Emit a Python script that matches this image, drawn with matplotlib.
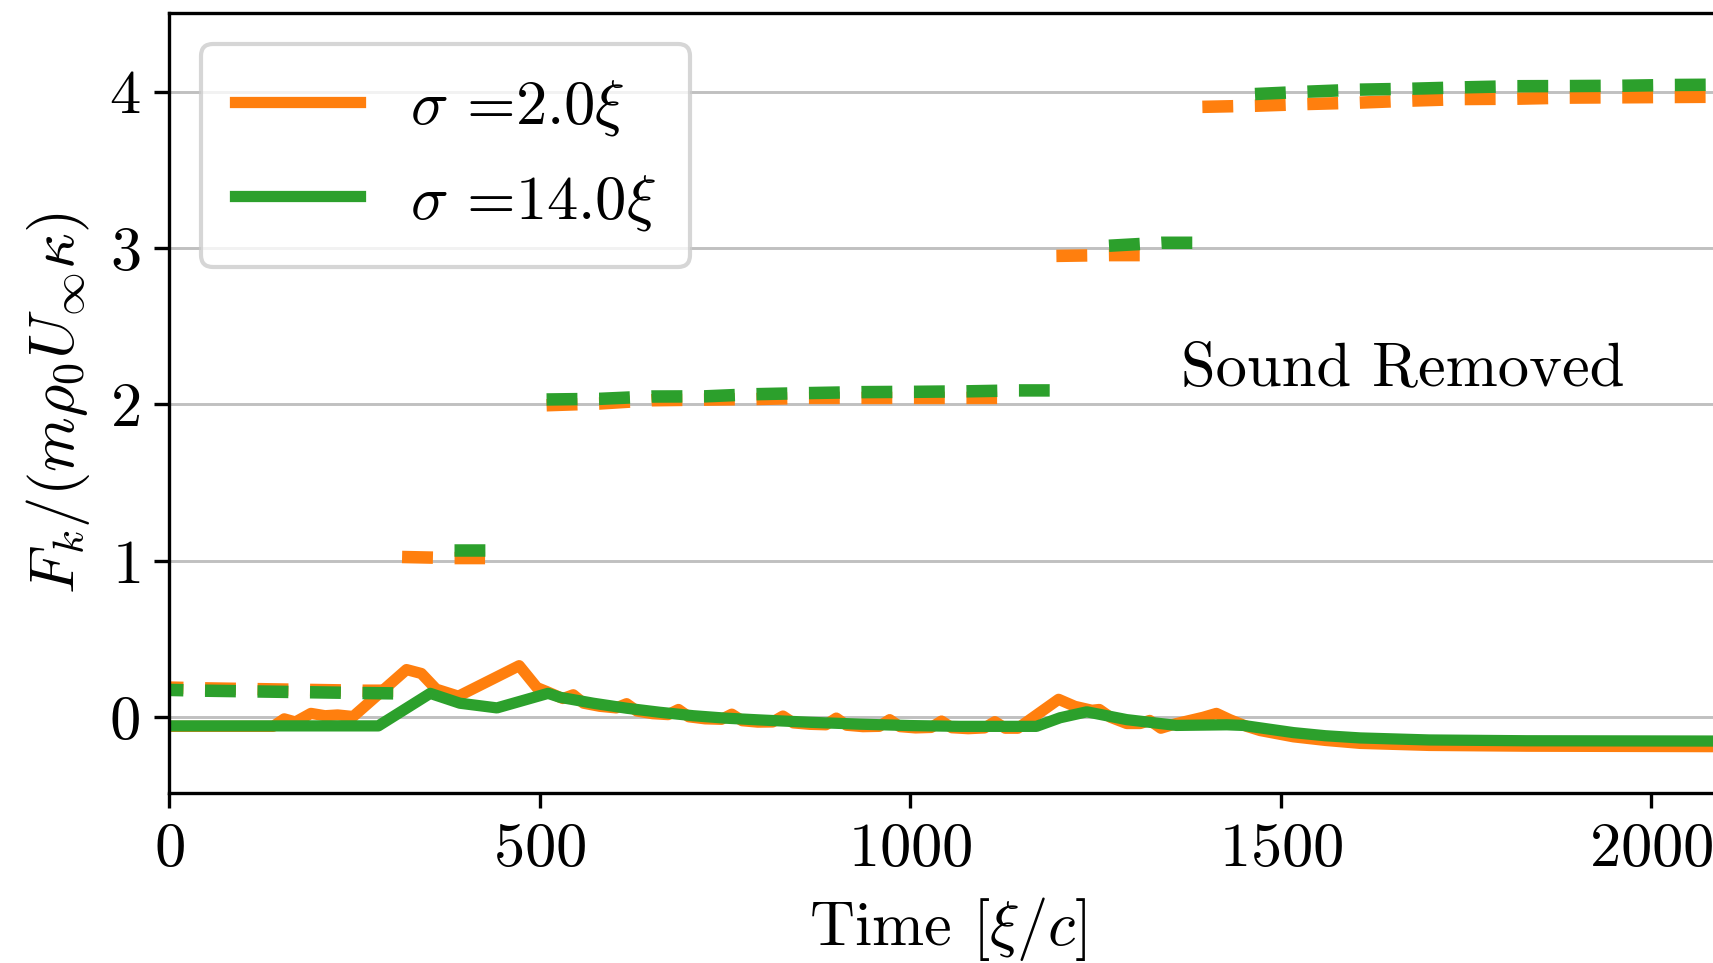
import matplotlib
matplotlib.use("Agg")
import matplotlib.pyplot as plt

plt.rcParams['font.family'] = 'serif'
plt.rcParams['font.serif'] = ['cmr10']
plt.rcParams['mathtext.fontset'] = 'cm'
plt.rcParams['axes.formatter.use_mathtext'] = True
plt.rcParams['font.size'] = 15

labels = [r'$\sigma$ =2.0$\xi$', r'$\sigma$ =14.0$\xi$']
colors = ['#ff7f0e', '#2ca02c']
x_ticks = [0, 500, 1000, 1500, 2000]
y_ticks = [0, 1, 2, 3, 4]

# solid curves (force), sigma = 2.0 xi
t_force_s2 = [0, 140, 155, 170, 191, 210, 227, 248, 320, 340, 360, 390, 472, 496, 509,
              531, 545, 559, 581, 603, 617, 631, 652, 673, 687, 701, 723, 745, 759, 773,
              794, 814, 828, 842, 864, 886, 900, 914, 936, 958, 972, 986, 1007, 1028, 1042,
              1056, 1078, 1100, 1114, 1128, 1145, 1200, 1222, 1245, 1255, 1270, 1292, 1310,
              1323, 1338, 1359, 1395, 1413, 1431, 1455, 1472, 1517, 1560, 1607, 1700, 1832, 2100]
F_force_s2 = [-0.058, -0.058, -0.01, -0.03, 0.025, 0.01, 0.015, 0.005, 0.305, 0.28, 0.18, 0.135, 0.33, 0.19, 0.165,
              0.12, 0.144, 0.09, 0.07, 0.06, 0.087, 0.04, 0.023, 0.017, 0.05, 0.003, -0.01, -0.013, 0.02, -0.022,
              -0.031, -0.03, 0.008, -0.036, -0.045, -0.048, -0.005, -0.051, -0.06, -0.058, -0.015, -0.06, -0.068, -0.065, -0.024,
              -0.067, -0.073, -0.068, -0.028, -0.07, -0.07, 0.115, 0.07, 0.045, 0.05, 0.0, -0.04, -0.04,
              -0.02, -0.07, -0.04, 0.0, 0.025, -0.015, -0.06, -0.085, -0.125, -0.148, -0.167, -0.18, -0.185, -0.188]

# solid curves (force), sigma = 14.0 xi
t_force_s14 = [0, 282, 352, 392, 442, 511, 527, 572, 617, 662, 707, 752, 797, 865, 932, 1000,
               1067, 1170, 1202, 1238, 1292, 1359, 1427, 1449, 1517, 1560, 1607, 1700, 1832, 2100]
F_force_s14 = [-0.055, -0.055, 0.153, 0.09, 0.06, 0.153, 0.128, 0.09, 0.058, 0.032, 0.01, -0.006, -0.017, -0.032, -0.044, -0.053,
               -0.058, -0.058, -0.003, 0.035, -0.015, -0.052, -0.048, -0.052, -0.098, -0.118, -0.132, -0.145, -0.15, -0.152]

# dashed curves (with sound removed), one list per plateau
t_drift_s2 = [[0, 48, 120, 190, 262, 302],
              [314, 384, 426],
              [509, 580, 651, 722, 792, 863, 934, 1005, 1075, 1117],
              [1197, 1268, 1312],
              [1394, 1465, 1535, 1606, 1677, 1748, 1818, 1889, 1960, 2031, 2100]]
F_drift_s2 = [[0.19, 0.185, 0.18, 0.175, 0.17, 0.17],
              [1.025, 1.018, 1.018],
              [1.995, 2.006, 2.027, 2.031, 2.035, 2.042, 2.042, 2.042, 2.042, 2.042],
              [2.95, 2.955, 2.955],
              [3.903, 3.91, 3.921, 3.93, 3.943, 3.953, 3.955, 3.962, 3.964, 3.966, 3.968]]

t_drift_s14 = [[0, 48, 120, 190, 262, 302],
               [384, 426],
               [509, 580, 651, 722, 792, 863, 934, 1005, 1075, 1146, 1188],
               [1268, 1339, 1382],
               [1465, 1535, 1606, 1677, 1748, 1818, 1889, 1960, 2031, 2100]]
F_drift_s14 = [[0.175, 0.17, 0.165, 0.16, 0.155, 0.153],
               [1.07, 1.07],
               [2.032, 2.036, 2.051, 2.052, 2.066, 2.073, 2.079, 2.081, 2.084, 2.09, 2.09],
               [3.015, 3.034, 3.034],
               [3.985, 4.0, 4.013, 4.019, 4.028, 4.035, 4.036, 4.038, 4.043, 4.045]]

W, H, DPI = 1714, 963, 300
fig = plt.figure(figsize=(W / DPI, H / DPI), dpi=DPI)
ax = fig.add_axes([169.4 / W, (H - 793.3) / H, (1725.5 - 169.4) / W, (793.3 - 12.7) / H])

lw_solid = 2.7
lw_dash = 3.0
dash_seq = (2.47, 1.73)

ax.plot(t_force_s2, F_force_s2, color=colors[0], lw=lw_solid, label=labels[0], zorder=2)
ax.plot(t_force_s14, F_force_s14, color=colors[1], lw=lw_solid, label=labels[1], zorder=2.1)

for tlist, flist, c, z in [(t_drift_s2, F_drift_s2, colors[0], 2.2),
                           (t_drift_s14, F_drift_s14, colors[1], 2.3)]:
    for i, (tt, ff) in enumerate(zip(tlist, flist)):
        offset = 1.35 if i == 0 else 0.0
        ax.plot(tt, ff, color=c, lw=lw_dash, linestyle=(offset, dash_seq),
                dash_capstyle='butt', zorder=z)

ax.text(1365, 2.22, 'Sound Removed', va='center', ha='left', fontsize=15)

ax.set_xlim(0, 2100)
ax.set_ylim(-0.486, 4.505)
ax.set_xticks(x_ticks)
ax.set_yticks(y_ticks)
ax.grid(axis='y', color='#c0c0c0', lw=0.7)
ax.set_axisbelow(True)
ax.set_xlabel(r'Time [$\xi/c$]')
ax.set_ylabel(r'$F_k/(m\rho_0 U_\infty \kappa)$')
ax.legend(loc='upper left', fontsize=15, handletextpad=0.8,
          borderpad=0.55, labelspacing=0.55)

fig.savefig('out.png', dpi=DPI)
